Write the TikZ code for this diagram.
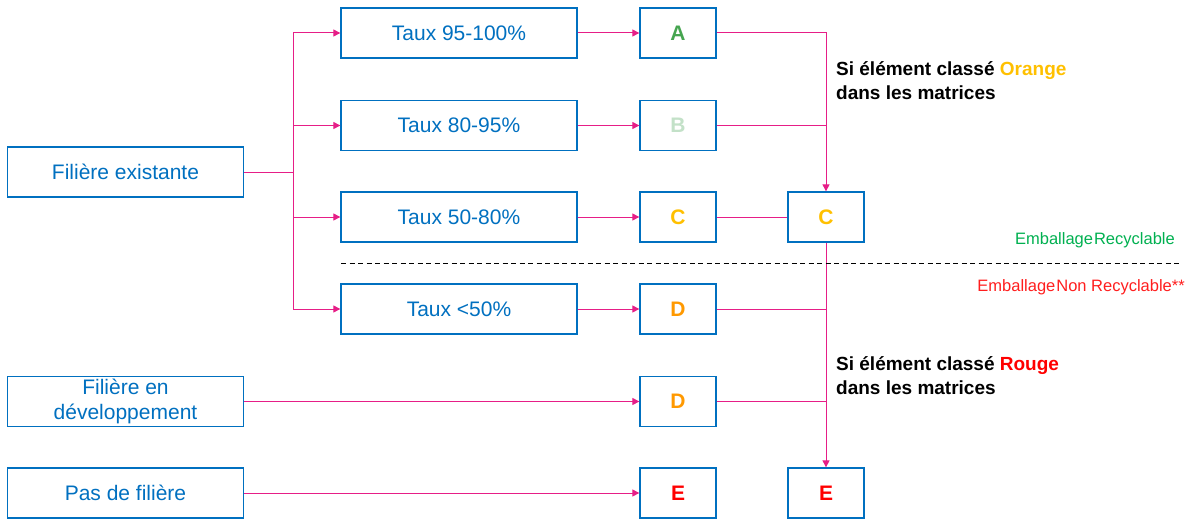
\documentclass[tikz,border=0pt]{standalone}
\usepackage{fontspec}
\setmainfont{Liberation Sans}
\usetikzlibrary{arrows.meta}
\definecolor{boxblue}{RGB}{0,112,192}
\definecolor{pinkc}{RGB}{230,30,135}
\definecolor{gA}{RGB}{70,165,80}
\definecolor{gB}{RGB}{195,225,200}
\definecolor{yC}{RGB}{255,192,0}
\definecolor{oD}{RGB}{255,153,0}
\definecolor{rE}{RGB}{255,0,0}
\definecolor{gRec}{RGB}{0,176,80}
\definecolor{rNon}{RGB}{255,30,30}
\begin{document}
\begin{tikzpicture}[x=1pt,y=-1pt,
  box/.style={draw=boxblue,line width=1.3pt,fill=white,text=boxblue,font=\fontsize{21}{25}\selectfont,minimum height=50pt,inner sep=0pt,align=center},
  wide/.style={box,minimum width=236pt},
  letter/.style={box,minimum width=76pt,font=\fontsize{21}{24}\selectfont\bfseries},
  conn/.style={draw=pinkc,line width=1pt},
  arr/.style={conn,-{Triangle[length=7pt,width=7pt]}},
  note/.style={font=\fontsize{19}{24}\selectfont\bfseries,align=left,anchor=west,inner sep=0pt}
]
\useasboundingbox (0,0) rectangle (1190,519);
% left boxes
\node[wide] (fe) at (125.5,172) {Filière existante};
\node[wide] (fd) at (125.5,401.5) {Filière en\\[0pt]développement};
\node[wide] (pf) at (125.5,493) {Pas de filière};
% taux boxes
\node[wide] (t1) at (459,33) {Taux 95-100\%};
\node[wide] (t2) at (459,125.5) {Taux 80-95\%};
\node[wide] (t3) at (459,217) {Taux 50-80\%};
\node[wide] (t4) at (459,309) {Taux <50\%};
% letter boxes
\node[letter,text=gA] (A) at (678,33) {A};
\node[letter,text=gB] (B) at (678,125.5) {B};
\node[letter,text=yC] (C) at (678,217) {C};
\node[letter,text=oD] (D) at (678,309) {D};
\node[letter,text=oD] (D2) at (678,401.5) {D};
\node[letter,text=rE] (E) at (678,493) {E};
\node[letter,text=yC] (C2) at (826,217) {C};
\node[letter,text=rE] (E2) at (826,493) {E};
% connectors
\coordinate (split) at (293,172);
\draw[conn] (fe.east) -- (split);
\draw[arr] (split) |- (t1.west);
\draw[arr] (split) |- (t2.west);
\draw[arr] (split) |- (t3.west);
\draw[arr] (split) |- (t4.west);
\draw[arr] (t1) -- (A);
\draw[arr] (t2) -- (B);
\draw[arr] (t3) -- (C);
\draw[arr] (t4) -- (D);
\draw[arr] (fd) -- (D2);
\draw[arr] (pf) -- (E);
\draw[arr] (A.east) -| (C2.north);
\draw[conn] (B.east) -- (B.east -| C2.north);
\draw[conn] (C) -- (C2);
\draw[arr] (C2.south) -- (E2.north);
\draw[conn] (D.east) -- (D.east -| C2.south);
\draw[conn] (D2.east) -- (D2.east -| C2.south);
% dashed separator
\coordinate (dl1) at (341,263);
\coordinate (dl2) at (1182,263);
\draw[line width=1pt,dash pattern=on 5pt off 3.5pt] (dl1) -- (dl2);
% notes
\node[note] (n1) at (836,81) {Si élément classé \textcolor{yC}{Orange}\\dans les matrices};
\node[note] (n2) at (836,376) {Si élément classé \textcolor{rE}{Rouge}\\dans les matrices};
\node[anchor=east,inner sep=0pt,text=gRec,font=\fontsize{16.5}{18}\selectfont] (rec) at (1175,240) {Emballage\hspace{1pt}Recyclable};
\node[anchor=east,inner sep=0pt,text=rNon,font=\fontsize{16.5}{18}\selectfont] (nrec) at (1185,287) {Emballage\hspace{1pt}Non Recyclable**};
\end{tikzpicture}
\end{document}
